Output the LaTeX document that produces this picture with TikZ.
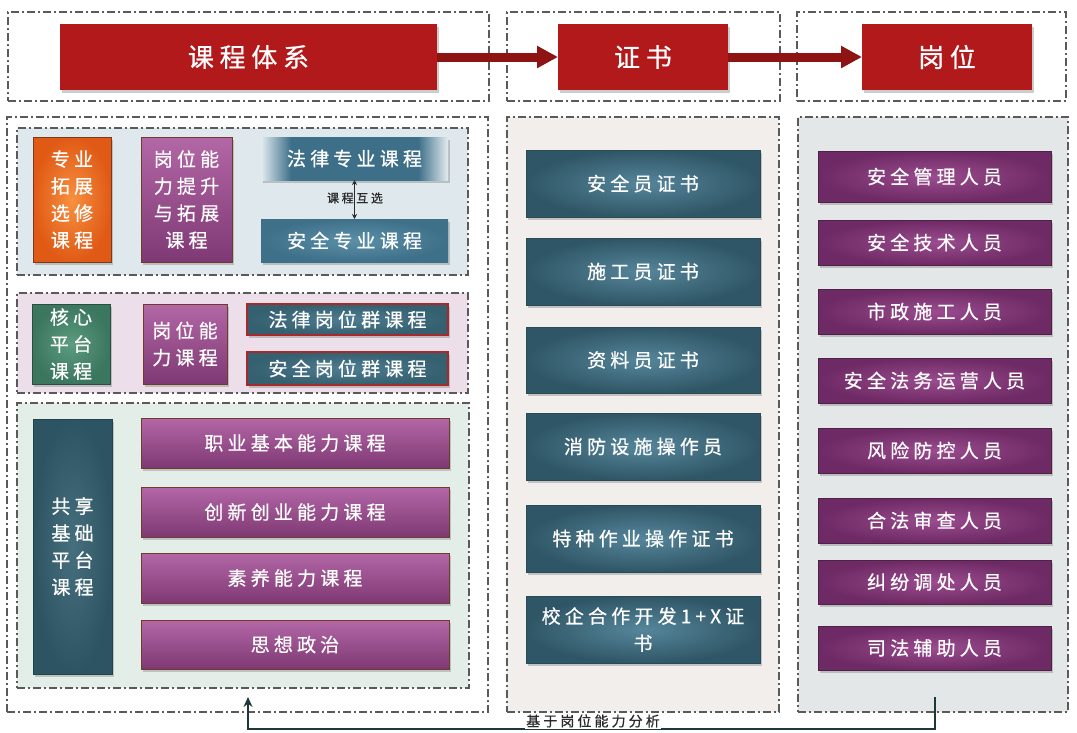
\documentclass[tikz,border=0pt]{standalone}
\usepackage{fontspec}
\setmainfont{Noto Sans CJK SC}[LetterSpace=22,FakeBold=0.6]
\usetikzlibrary{arrows.meta,shadows}
\definecolor{framegray}{HTML}{5A5A5A}
\definecolor{hdrred}{HTML}{B2191B}
\definecolor{arrred}{HTML}{8E1414}
\definecolor{pone}{HTML}{DFE8ED}
\definecolor{ptwo}{HTML}{ECDFE9}
\definecolor{pthree}{HTML}{E4EEE8}
\definecolor{pmid}{HTML}{F1EEEB}
\definecolor{pright}{HTML}{E3E7E7}
\definecolor{orin}{HTML}{F7903F}
\definecolor{orout}{HTML}{E05A16}
\definecolor{orbd}{HTML}{7A3A1C}
\definecolor{pltop}{HTML}{B367A6}
\definecolor{plbot}{HTML}{7E3974}
\definecolor{plbd}{HTML}{6E3B2C}
\definecolor{prin}{HTML}{9B4C8F}
\definecolor{prout}{HTML}{6E2A64}
\definecolor{prbd}{HTML}{4E2248}
\definecolor{tlin}{HTML}{56869B}
\definecolor{tlout}{HTML}{2F5666}
\definecolor{tlbd}{HTML}{2A4A55}
\definecolor{bain}{HTML}{3D6F89}
\definecolor{baout}{HTML}{E2EBF0}
\definecolor{bbin}{HTML}{5B8FA8}
\definecolor{bbout}{HTML}{3F7089}
\definecolor{grin}{HTML}{4F7C92}
\definecolor{grout}{HTML}{34606F}
\definecolor{grbd}{HTML}{A52A2C}
\definecolor{gnin}{HTML}{5C9C80}
\definecolor{gnout}{HTML}{3B765E}
\definecolor{gnbd}{HTML}{2C4D40}
\definecolor{shin}{HTML}{466F7E}
\definecolor{shout}{HTML}{2D5462}
\definecolor{shbd}{HTML}{22424C}
\definecolor{backcol}{HTML}{1D3838}
\definecolor{labtext}{HTML}{2A2A2A}
\pgfdeclarehorizontalshading{lawshade}{100bp}{color(0bp)=(baout); color(25bp)=(baout); color(33bp)=(bain); color(67bp)=(bain); color(75bp)=(baout); color(100bp)=(baout)}
\newcommand\placebox[7]{\node[#2, minimum width={(#5)-(#3)}, minimum height={(#6)-(#4)}] (#1) at ({((#3)+(#5))/2},{((#4)+(#6))/2}) {#7};}
\begin{document}
\begin{tikzpicture}[x=1pt,y=-1pt,
  frame/.style={rectangle, inner sep=0pt, outer sep=0pt, draw=framegray, line width=1.3pt, dash pattern=on 8pt off 3pt on 2pt off 3pt},
  shad/.style={drop shadow={shadow xshift=2pt,shadow yshift=-2.5pt,opacity=0.4}},
  box/.style={rectangle, inner sep=0pt, outer sep=0pt, text=white, font=\fontsize{19}{27}\selectfont, align=center, shad},
  hdr/.style={box, fill=hdrred, font=\fontsize{26}{30}\selectfont},
  orangeb/.style={box, inner color=orin, outer color=orout, draw=orbd, line width=1pt},
  purpleL/.style={box, top color=pltop, bottom color=plbot, draw=plbd, line width=1pt},
  purpleR/.style={box, inner color=prin, outer color=prout, draw=prbd, line width=0.8pt},
  certb/.style={box, inner color=tlin, outer color=tlout, draw=tlbd, line width=0.6pt},
  blueA/.style={box, shading=lawshade},
  blueB/.style={box, inner color=bbin, outer color=bbout},
  grpb/.style={box, inner color=grin, outer color=grout, draw=grbd, line width=1.5pt},
  greenb/.style={box, inner color=gnin, outer color=gnout, draw=gnbd, line width=1pt},
  shareb/.style={box, inner color=shin, outer color=shout, draw=shbd, line width=1pt},
  harrow/.style={draw=arrred, line width=9pt, -{Triangle[width=21pt,length=21pt]}},
  backarrow/.style={draw=backcol, line width=2pt, -{Stealth[length=10pt,width=9pt]}},
  smalllab/.style={text=labtext, font=\fontsize{12}{12}\selectfont, inner sep=1pt}
]
\useasboundingbox (0,0) rectangle (1077,732);
% top frames
\placebox{tA}{frame}{8}{12}{489}{101}{}
\placebox{tB}{frame}{507}{12}{780}{101}{}
\placebox{tC}{frame}{797}{12}{1066}{101}{}
% lower frames
\placebox{fL}{frame}{7}{117}{488}{712}{}
\placebox{fM}{frame, fill=pmid}{507}{117}{779}{712}{}
\placebox{fR}{frame, fill=pright}{798}{117}{1068}{712}{}
% panels
\placebox{pA}{frame, fill=pone}{17}{128}{468}{275}{}
\placebox{pB}{frame, fill=ptwo}{17}{293}{468}{393}{}
\placebox{pC}{frame, fill=pthree}{17}{403}{469}{688}{}
% headers
\placebox{hA}{hdr}{60}{24}{437}{90}{课程体系}
\placebox{hB}{hdr}{558}{24}{728}{90}{证书}
\placebox{hC}{hdr}{862}{24}{1032}{90}{岗位}
% panel 1
\placebox{zy}{orangeb}{33}{137}{111}{262}{专业\\拓展\\选修\\课程}
\placebox{gwts}{purpleL}{141}{137}{232}{262}{岗位能\\力提升\\与拓展\\课程}
\placebox{flzy}{blueA}{261}{137}{448}{180}{法律专业课程}
\placebox{aqzy}{blueB}{261}{219}{448}{262}{安全专业课程}
% panel 2
\placebox{hx}{greenb}{32}{304}{110}{384}{核心\\平台\\课程}
\placebox{gwnl}{purpleL}{143}{304}{227}{384}{岗位能\\力课程}
\placebox{flgw}{grpb}{247}{304}{448}{335}{法律岗位群课程}
\placebox{aqgw}{grpb}{247}{352}{448}{385}{安全岗位群课程}
% panel 3
\placebox{gx}{shareb}{33}{419}{112}{674}{共享\\基础\\平台\\课程}
\placebox{zyjb}{purpleL}{141}{418}{449}{468}{职业基本能力课程}
\placebox{cxcy}{purpleL}{141}{487}{449}{537}{创新创业能力课程}
\placebox{syn}{purpleL}{141}{553}{449}{603}{素养能力课程}
\placebox{sxzz}{purpleL}{141}{620}{449}{669}{思想政治}
% certificates
\placebox{cA}{certb}{526}{150}{760}{217}{安全员证书}
\placebox{cB}{certb}{526}{238}{760}{305}{施工员证书}
\placebox{cC}{certb}{526}{327}{760}{393}{资料员证书}
\placebox{cD}{certb}{526}{413}{760}{480}{消防设施操作员}
\placebox{cE}{certb}{526}{505}{760}{572}{特种作业操作证书}
\placebox{cF}{certb}{526}{596}{760}{663}{校企合作开发1+X证\\书}
% posts
\placebox{rA}{purpleR}{818}{151}{1051}{202}{安全管理人员}
\placebox{rB}{purpleR}{818}{220}{1051}{265}{安全技术人员}
\placebox{rC}{purpleR}{818}{289}{1051}{334}{市政施工人员}
\placebox{rD}{purpleR}{818}{358}{1051}{403}{安全法务运营人员}
\placebox{rE}{purpleR}{818}{428}{1051}{473}{风险防控人员}
\placebox{rF}{purpleR}{818}{498}{1051}{543}{合法审查人员}
\placebox{rG}{purpleR}{818}{560}{1051}{604}{纠纷调处人员}
\placebox{rH}{purpleR}{818}{626}{1051}{670}{司法辅助人员}
% header arrows
\draw[harrow] (hA.east) -- (hB.west);
\draw[harrow] (hB.east) -- (hC.west);
% course exchange arrow
\draw[draw=labtext, line width=0.8pt, {Stealth[length=5pt,width=5pt]}-{Stealth[length=5pt,width=5pt]}] (flzy.south) -- (aqzy.north);
\node[smalllab] (hxlab) at (355,198) {课程互选};
% bottom feedback arrow
\coordinate (fbS) at (935,697);
\coordinate (fbE) at (248,697);
\draw[backarrow] (fbS) -- ++(0,32) -| (fbE);
\node[fill=white, text=labtext, font=\fontsize{14}{14}\selectfont, inner sep=1.5pt] (fblab) at (593,721) {基于岗位能力分析};
\end{tikzpicture}
\end{document}
